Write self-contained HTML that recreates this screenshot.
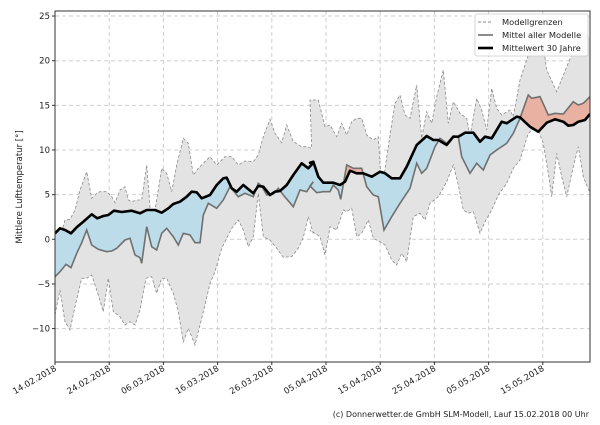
<!DOCTYPE html>
<html><head><meta charset="utf-8"><style>
body{margin:0;background:#fff;width:600px;height:420px;overflow:hidden}
svg{font-family:"DejaVu Sans","Liberation Sans",sans-serif}
</style></head><body>
<svg id="s" width="600" height="420" viewBox="0 0 600 420" xmlns="http://www.w3.org/2000/svg">
<defs><clipPath id="pa"><rect x="55" y="11" width="535" height="351"/></clipPath>
<clipPath id="below"><path id="cb"/></clipPath>
<clipPath id="above"><path id="ca"/></clipPath></defs>
<g id="grid" stroke="#cfcfcf" stroke-dasharray="4,3" stroke-width="1"></g>
<g clip-path="url(#pa)">
<path id="env" fill="#e3e3e3" stroke="none"/>
<path id="up" fill="none" stroke="#8a8a8a" stroke-dasharray="3,2" stroke-width="0.8"/>
<path id="lo" fill="none" stroke="#8a8a8a" stroke-dasharray="3,2" stroke-width="0.8"/>
<g clip-path="url(#below)"><path id="bandb" fill="#bcdce9"/></g>
<g clip-path="url(#above)"><path id="banda" fill="#e9b1a2"/></g>
<path id="mean" fill="none" stroke="#707070" stroke-width="1.6"/>
<path id="clim" fill="none" stroke="#000" stroke-width="2.6" stroke-linejoin="round"/>
</g>
<rect x="55" y="11" width="535" height="351" fill="none" stroke="#333" stroke-width="1"/>
<g id="ticks" font-size="8.5" fill="#222"></g>
<text transform="translate(22,187) rotate(-90)" text-anchor="middle" font-size="8.5" fill="#222">Mittlere Lufttemperatur [°]</text>
<g font-size="8.3" fill="#222">
<rect x="475" y="14" width="113" height="42" fill="#fff" fill-opacity="0.85" stroke="#ccc" stroke-width="0.8" rx="2"/>
<line x1="478" y1="22" x2="493" y2="22" stroke="#8a8a8a" stroke-dasharray="3,2"/>
<text x="502" y="25">Modellgrenzen</text>
<line x1="478" y1="35" x2="493" y2="35" stroke="#707070" stroke-width="1.6"/>
<text x="502" y="38">Mittel aller Modelle</text>
<line x1="478" y1="48" x2="493" y2="48" stroke="#000" stroke-width="2.6"/>
<text x="502" y="51">Mittelwert 30 Jahre</text>
</g>
<text x="589" y="417" text-anchor="end" font-size="8" fill="#222">(c) Donnerwetter.de GmbH SLM-Modell, Lauf 15.02.2018 00 Uhr</text>
</svg>
<script>
function conv(a,b){var r=[];for(var i=0;i<a.length;i++)r.push([40+a[i][0]/3,a[i][1]/3]);for(i=0;i<b.length;i++)r.push([310+b[i][0]/3,b[i][1]/3]);return r.filter(function(p){return p[0]<=591});}
var clim=conv([[45,700],[60,685],[75,690],[93,700],[110,682],[130,665],[155,643],[172,655],[190,648],[205,645],[222,632],[245,636],[275,632],[300,640],[320,630],[345,630],[365,638],[385,625],[400,612],[420,605],[440,590],[455,575],[470,577],[485,595],[510,585],[530,555],[550,535],[560,533],[575,565],[590,575],[610,555],[640,580],[655,558],[670,560],[690,585],[705,575],[720,573],[740,555],[760,525],[785,490],[805,505],[820,488]],
[[0,488],[10,485],[25,530],[40,548],[70,548],[90,555],[105,545],[120,512],[140,520],[160,520],[185,530],[210,515],[225,520],[245,535],[270,535],[290,500],[320,435],[350,408],[370,420],[385,420],[410,435],[430,410],[445,410],[465,398],[490,398],[510,425],[525,410],[545,415],[575,365],[590,370],[620,350],[630,352],[660,380],[685,395],[710,368],[735,358],[760,365],[775,377],[790,375],[805,365],[825,360],[840,342]]);
var mean=conv([[45,830],[60,815],[78,793],[93,803],[110,760],[125,728],[140,690],[155,735],[175,748],[200,755],[215,753],[230,745],[255,720],[270,715],[285,765],[300,773],[305,790],[320,680],[335,740],[350,750],[365,700],[380,685],[400,710],[415,735],[430,700],[450,705],[465,728],[480,728],[490,645],[505,610],[530,625],[550,600],[570,560],[595,590],[615,580],[640,590],[655,550],[665,558],[680,585],[700,582],[715,565],[730,585],[760,620],[780,570],[800,575],[820,545]],
[[0,558],[20,578],[40,575],[60,575],[70,555],[85,570],[92,598],[110,495],[130,505],[155,505],[170,560],[190,585],[205,590],[222,690],[245,650],[270,610],[300,565],[320,490],[335,520],[350,505],[375,440],[390,415],[410,430],[430,408],[445,410],[455,470],[480,520],[500,490],[520,510],[540,465],[560,450],[590,430],[610,400],[630,355],[655,285],[665,295],[690,290],[715,345],[735,340],[760,342],[790,305],[805,315],[820,310],[840,290]]);
var up=conv([[45,770],[60,715],[75,660],[90,658],[105,630],[120,570],[140,515],[155,595],[170,580],[180,575],[200,575],[215,590],[225,608],[240,570],[255,560],[265,600],[275,605],[290,600],[305,600],[320,495],[335,685],[350,600],[365,505],[380,520],[395,575],[410,495],[430,415],[445,430],[460,525],[475,505],[490,490],[510,470],[530,495],[555,470],[575,470],[595,495],[615,483],[640,485],[655,465],[670,410],[690,358],[705,400],[725,428],[740,375],[760,425],[785,440],[800,440],[815,445]],
[[0,300],[25,300],[45,380],[60,375],[80,410],[95,370],[110,405],[125,365],[140,355],[155,355],[170,405],[190,420],[205,410],[215,575],[240,405],[255,310],[270,285],[285,345],[300,355],[320,255],[335,415],[350,335],[365,370],[380,290],[400,210],[415,370],[430,305],[450,340],[470,355],[480,410],[500,295],[515,330],[530,390],[545,265],[560,325],[575,345],[600,330],[610,350],[630,240],[655,165],[670,90],[690,65],[710,210],[740,275],[770,200],[800,130],[820,100],[840,115]]);
var lo=conv([[45,945],[60,870],[75,965],[90,990],[105,920],[125,835],[140,835],[155,825],[170,870],[190,935],[205,835],[220,935],[240,950],[255,975],[270,965],[285,975],[300,930],[318,835],[335,830],[350,880],[365,835],[380,835],[400,880],[415,935],[430,1025],[445,985],[465,1035],[480,975],[495,915],[510,850],[525,815],[545,745],[560,715],[575,685],[595,660],[610,690],[625,740],[640,710],[655,580],[670,710],[690,720],[710,745],[730,772],[755,770],[775,745],[790,712],[805,650],[820,700]],
[[0,690],[15,700],[30,710],[45,765],[60,680],[80,690],[100,630],[110,635],[125,625],[140,710],[155,700],[175,660],[190,715],[210,725],[225,735],[245,780],[260,795],[275,760],[290,785],[310,650],[330,640],[345,660],[360,610],[385,590],[410,545],[430,495],[445,555],[460,630],[475,640],[490,635],[510,700],[525,665],[545,630],[565,585],[590,550],[610,505],[630,480],[655,400],[680,380],[700,430],[715,520],[725,590],[740,460],[755,530],[770,590],[790,500],[805,440],[820,530],[840,580]]);
function pts(a){return a.map(function(p){return p[0].toFixed(1)+","+p[1].toFixed(1)}).join(" L");}
function line(a){return "M"+pts(a);}
function $(i){return document.getElementById(i);}
$("clim").setAttribute("d",line(clim));$("mean").setAttribute("d",line(mean));
$("up").setAttribute("d",line(up));$("lo").setAttribute("d",line(lo));
$("env").setAttribute("d",line(up)+" L"+pts(lo.slice().reverse())+"Z");
var band=line(mean)+" L"+pts(clim.slice().reverse())+"Z";
$("bandb").setAttribute("d",band);$("banda").setAttribute("d",band);
$("cb").setAttribute("d",line(clim)+" L600,420 L0,420 L0,"+clim[0][1]+"Z");
$("ca").setAttribute("d",line(clim)+" L600,0 L0,0 L0,"+clim[0][1]+"Z");
var g=$("grid"),t=$("ticks"),ns="http://www.w3.org/2000/svg";
function el(p,n,a,tx){var e=document.createElementNS(ns,n);for(var k in a)e.setAttribute(k,a[k]);if(tx)e.textContent=tx;p.appendChild(e);}
for(var v=-10;v<=25;v+=5){var y=239.3-8.93*v;el(g,"line",{x1:55,x2:590,y1:y,y2:y});el(t,"line",{x1:52,x2:55,y1:y,y2:y,stroke:"#333"});el(t,"text",{x:50,y:y+3,"text-anchor":"end"},(v<0?"\u2212"+(-v):""+v));}
var d=["14.02.2018","24.02.2018","06.03.2018","16.03.2018","26.03.2018","05.04.2018","15.04.2018","25.04.2018","05.05.2018","15.05.2018"];
for(var i=0;i<d.length;i++){var x=55+i*54.2;if(i>0)el(g,"line",{x1:x,x2:x,y1:11,y2:362});el(t,"line",{x1:x,x2:x,y1:362,y2:365,stroke:"#333"});el(t,"text",{transform:"translate("+(x+2)+",370) rotate(-30)","text-anchor":"end"},d[i]);}
</script>
</body></html>
